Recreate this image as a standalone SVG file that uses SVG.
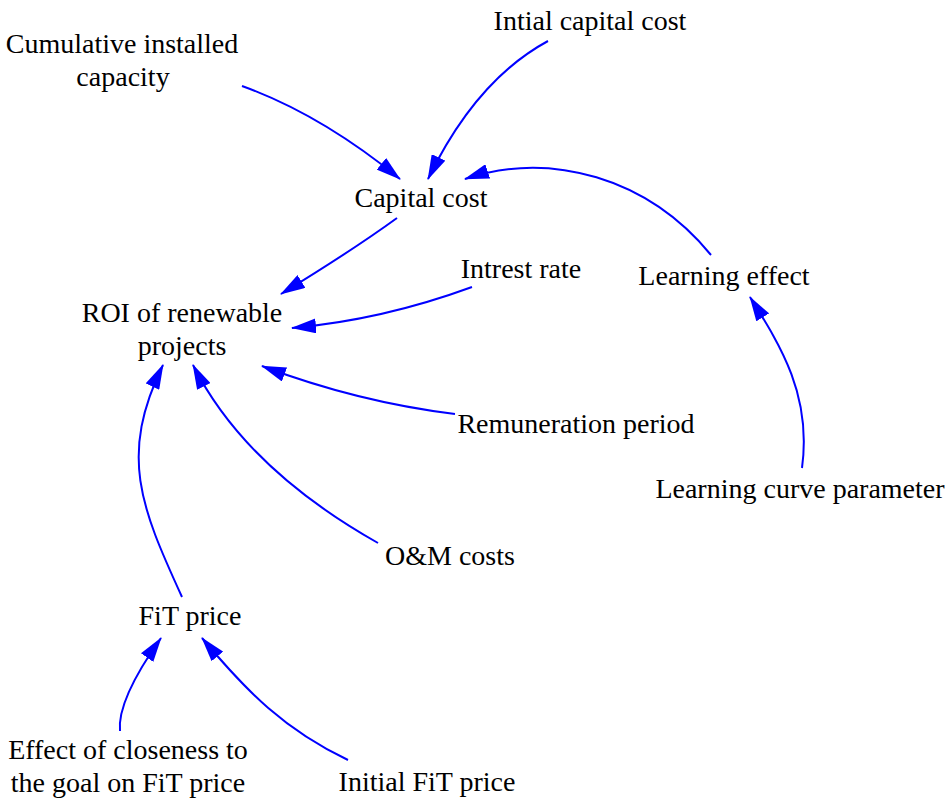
<svg xmlns="http://www.w3.org/2000/svg" width="950" height="804" viewBox="0 0 950 804">
<style>
text{font-family:"Liberation Serif","Times New Roman",serif;font-size:28px;fill:#000;text-anchor:middle}
.c{fill:none;stroke:#0000FF;stroke-width:2}
</style>
<defs>
<marker id="ah" markerUnits="userSpaceOnUse" viewBox="0 0 25 15" markerWidth="25" markerHeight="15" refX="24" refY="7.5" orient="auto">
<path d="M0,0 L25,7.5 L0,15 z" fill="#0000FF"/>
</marker>
</defs>
<rect width="950" height="804" fill="#fff"/>
<g id="connectors">
<path class="c" marker-end="url(#ah)" d="M242,86 Q321,114.5 400,179"/>
<path class="c" marker-end="url(#ah)" d="M548,41 Q476,80 428,179"/>
<path class="c" marker-end="url(#ah)" d="M711,255 C648,178 550.5,150.2 465,179"/>
<path class="c" marker-end="url(#ah)" d="M397,218 Q353,250 281,294"/>
<path class="c" marker-end="url(#ah)" d="M472,287 Q382,320 292,328"/>
<path class="c" marker-end="url(#ah)" d="M455,414 Q357.5,402 262,366"/>
<path class="c" marker-end="url(#ah)" d="M378,543 Q245,468 193,365"/>
<path class="c" marker-end="url(#ah)" d="M182,597 C140.3,506 119,455 163,365"/>
<path class="c" marker-end="url(#ah)" d="M802,468 C812,395 780,345 750,297"/>
<path class="c" marker-end="url(#ah)" d="M120,731 Q117,700 161,638"/>
<path class="c" marker-end="url(#ah)" d="M348,760 C285,730 247,692 202,638"/>
</g>
<g id="cumulative"><text x="122" y="53">Cumulative installed</text><text x="123" y="86">capacity</text></g>
<g id="initial-capital"><text x="590" y="30">Intial capital cost</text></g>
<g id="capital-cost"><text x="421" y="207">Capital cost</text></g>
<g id="roi"><text x="182" y="322">ROI of renewable</text><text x="182" y="355">projects</text></g>
<g id="interest"><text x="521" y="278">Intrest rate</text></g>
<g id="learning-effect"><text x="724" y="285">Learning effect</text></g>
<g id="remuneration"><text x="576" y="433">Remuneration period</text></g>
<g id="learning-curve"><text x="800" y="498">Learning curve parameter</text></g>
<g id="om"><text x="450" y="565">O&amp;M costs</text></g>
<g id="fit"><text x="190" y="625">FiT price</text></g>
<g id="effect"><text x="128" y="759">Effect of closeness to</text><text x="128" y="792">the goal on FiT price</text></g>
<g id="initial-fit"><text x="427" y="791">Initial FiT price</text></g>
</svg>
